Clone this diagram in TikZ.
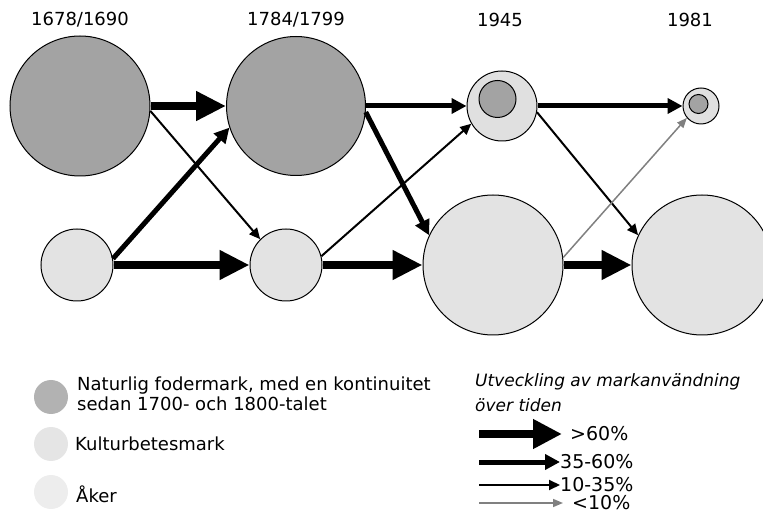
\documentclass[tikz,border=0pt]{standalone}
\usepackage{fontspec}
\setmainfont{DejaVu Sans}
\usetikzlibrary{arrows.meta}
\definecolor{natur}{gray}{0.64}
\definecolor{kultur}{gray}{0.88}
\definecolor{aker}{gray}{0.89}
\begin{document}
\begin{tikzpicture}[x=1pt,y=-1pt,
  land/.style={circle,draw,line width=1pt,inner sep=0pt},
  key/.style={circle,inner sep=0pt,minimum size=34pt},
  big/.style={line width=8pt,-{Triangle[length=30pt,width=28pt]}},
  mid/.style={line width=5pt,-{Triangle[length=15pt,width=15pt]}},
  thin/.style={line width=2pt,-{Triangle[length=11pt,width=10pt]}},
  faint/.style={line width=1.5pt,gray,-{Triangle[length=10pt,width=8pt]}},
  year/.style={font=\fontsize{18}{21}\selectfont},
  txt/.style={font=\fontsize{18}{20}\selectfont,anchor=west,inner sep=0pt,align=left}]
  \useasboundingbox (0,0) rectangle (763,518);
  % years
  \node[year] (y1) at (80,20) {1678/1690};
  \node[year] (y2) at (296,20) {1784/1799};
  \node[year] (y3) at (500,20) {1945};
  \node[year] (y4) at (690,20) {1981};
  % land use circles
  \node[land,fill=natur,minimum size=140pt] (a1) at (80,106) {};
  \node[land,fill=natur,minimum size=139pt] (b1) at (296,106) {};
  \node[land,fill=kultur,minimum size=70pt] (c1) at (502,106) {};
  \node[land,fill=natur,minimum size=37pt] (c1in) at (497.5,99) {};
  \node[land,fill=kultur,minimum size=36pt] (d1) at (701,106) {};
  \node[land,fill=natur,minimum size=19pt] (d1in) at (698.5,104) {};
  \node[land,fill=aker,minimum size=72pt] (a2) at (77,265) {};
  \node[land,fill=aker,minimum size=72pt] (b2) at (286,265) {};
  \node[land,fill=aker,minimum size=140pt] (c2) at (493,265) {};
  \node[land,fill=aker,minimum size=140pt] (d2) at (702,265) {};
  % flows
  \draw[big] (a1.east) -- (b1.west);
  \draw[thin] (a1.-4) -- (b2.135);
  \draw[mid] (a2.10) -- (b1.198);
  \draw[big] (a2.east) -- (b2.west);
  \draw[mid] (b1.east) -- (c1.west);
  \draw[mid] (b1.-5) -- (c2.155);
  \draw[thin] (b2.14) -- (c1.210);
  \draw[big] (b2.east) -- (c2.west);
  \draw[mid] (c1.east) -- (d1.west);
  \draw[thin] (c1.-10) -- (d2.155);
  \draw[faint] (c2.6) -- (d1.220);
  \draw[big] (c2.east) -- (d2.west);
  % legend
  \node[key,fill=gray!60] (k1) at (51,397) {};
  \node[key,fill=gray!20] (k2) at (51,444) {};
  \node[key,fill=gray!14] (k3) at (51,492) {};
  \node[txt] (t1) at (77,394) {Naturlig fodermark, med en kontinuitet\\sedan 1700- och 1800-talet};
  \node[txt] (t2) at (75,444) {Kulturbetesmark};
  \node[txt] (t3) at (76,494) {Åker};
  \node[txt,font=\fontsize{17}{25}\selectfont\itshape] (t4) at (475,393) {Utveckling av markanvändning\\över tiden};
  \coordinate (s1) at (479,434);
  \coordinate (s2) at (479,462);
  \coordinate (s3) at (479,485);
  \coordinate (s4) at (479,503);
  \node[txt,font=\fontsize{19}{20}\selectfont] (p1) at (570,434) {>60\%};
  \node[txt,font=\fontsize{19}{20}\selectfont] (p2) at (560,462) {35-60\%};
  \node[txt,font=\fontsize{19}{20}\selectfont] (p3) at (560,485) {10-35\%};
  \node[txt,font=\fontsize{19}{20}\selectfont] (p4) at (572,503) {<10\%};
  \draw[big,-{Triangle[length=29pt,width=28pt]}] (s1) -- ([xshift=-8pt]p1.west);
  \draw[mid] (s2) -- (p2.west);
  \draw[thin] (s3) -- (p3.west);
  \draw[faint] (s4) -- ([xshift=-9pt]p4.west);
\end{tikzpicture}
\end{document}
